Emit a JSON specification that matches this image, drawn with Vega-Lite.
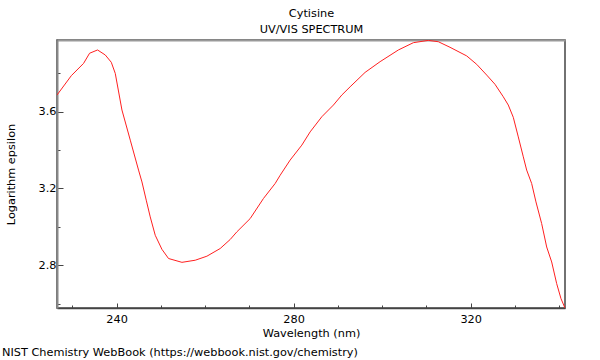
{
  "$schema": "https://vega.github.io/schema/vega-lite/v6.json",
  "width": 508,
  "height": 268,
  "autosize": {"type": "none"},
  "padding": {"left": 57, "top": 40, "right": 35, "bottom": 52},
  "background": "white",
  "title": {
    "text": "NIST Chemistry WebBook (https://webbook.nist.gov/chemistry)",
    "orient": "bottom",
    "anchor": "start",
    "frame": "bounds",
    "font": "DejaVu Sans",
    "fontSize": 11.3,
    "fontWeight": "normal",
    "color": "black",
    "offset": 8,
    "dx": -3
  },
  "config": {
    "font": "DejaVu Sans",
    "view": {"stroke": "#444", "strokeWidth": 1.5}
  },
  "data": {
    "values": [
      {"w": 226.55, "v": 3.687},
      {"w": 229.78, "v": 3.788},
      {"w": 232.55, "v": 3.852},
      {"w": 233.91, "v": 3.905},
      {"w": 235.71, "v": 3.922},
      {"w": 237.45, "v": 3.896},
      {"w": 238.81, "v": 3.858},
      {"w": 239.71, "v": 3.8},
      {"w": 241.22, "v": 3.609},
      {"w": 243.1, "v": 3.452},
      {"w": 244.97, "v": 3.296},
      {"w": 245.74, "v": 3.234},
      {"w": 246.71, "v": 3.139},
      {"w": 247.61, "v": 3.052},
      {"w": 248.74, "v": 2.956},
      {"w": 250.25, "v": 2.883},
      {"w": 251.74, "v": 2.835},
      {"w": 254.77, "v": 2.815},
      {"w": 257.77, "v": 2.826},
      {"w": 260.41, "v": 2.847},
      {"w": 263.41, "v": 2.887},
      {"w": 265.67, "v": 2.934},
      {"w": 267.18, "v": 2.974},
      {"w": 270.18, "v": 3.043},
      {"w": 273.19, "v": 3.148},
      {"w": 275.83, "v": 3.226},
      {"w": 276.96, "v": 3.269},
      {"w": 279.21, "v": 3.348},
      {"w": 281.85, "v": 3.426},
      {"w": 283.73, "v": 3.495},
      {"w": 286.37, "v": 3.574},
      {"w": 288.99, "v": 3.635},
      {"w": 290.88, "v": 3.687},
      {"w": 292.76, "v": 3.73},
      {"w": 296.14, "v": 3.805},
      {"w": 299.53, "v": 3.861},
      {"w": 303.66, "v": 3.922},
      {"w": 307.05, "v": 3.96},
      {"w": 310.43, "v": 3.972},
      {"w": 312.69, "v": 3.965},
      {"w": 315.33, "v": 3.936},
      {"w": 319.1, "v": 3.891},
      {"w": 321.36, "v": 3.847},
      {"w": 323.62, "v": 3.791},
      {"w": 325.49, "v": 3.743},
      {"w": 327.36, "v": 3.678},
      {"w": 328.49, "v": 3.635},
      {"w": 329.62, "v": 3.571},
      {"w": 330.75, "v": 3.469},
      {"w": 331.88, "v": 3.365},
      {"w": 332.64, "v": 3.296},
      {"w": 333.77, "v": 3.226},
      {"w": 334.74, "v": 3.13},
      {"w": 336.03, "v": 3.017},
      {"w": 337.16, "v": 2.895},
      {"w": 338.29, "v": 2.817},
      {"w": 339.42, "v": 2.704},
      {"w": 340.39, "v": 2.626},
      {"w": 341.29, "v": 2.577}
    ]
  },
  "resolve": {"axis": {"x": "independent"}},
  "layer": [
    {
      "mark": {"type": "line", "color": "#ff2020", "strokeWidth": 1, "clip": true},
      "encoding": {
        "x": {
          "field": "w",
          "type": "quantitative",
          "scale": {"domain": [226.55, 341.3], "nice": false, "zero": false},
          "axis": {
            "title": "Wavelength (nm)",
            "titleFont": "DejaVu Sans",
            "titleFontSize": 11.3,
            "titleFontWeight": "normal",
            "titleColor": "black",
            "titlePadding": 1,
            "values": [230, 240, 250, 260, 270, 280, 290, 300, 310, 320, 330, 340],
            "labelExpr": "datum.value % 40 === 0 ? format(datum.value, 'd') : ''",
            "labelFont": "DejaVu Sans",
            "labelFontSize": 11.3,
            "labelColor": "black",
            "labelPadding": 10,
            "labelOverlap": false,
            "labelFlush": false,
            "tickSize": {"condition": {"test": "datum.value % 40 === 0", "value": -5}, "value": -3},
            "tickColor": "#444",
            "domainColor": "#444",
            "domainWidth": 1.5,
            "grid": false
          }
        },
        "y": {
          "field": "v",
          "type": "quantitative",
          "scale": {"domain": [2.577, 3.974], "nice": false, "zero": false},
          "axis": {
            "title": "Logarithm epsilon",
            "titleFont": "DejaVu Sans",
            "titleFontSize": 11.3,
            "titleFontWeight": "normal",
            "titleColor": "black",
            "titlePadding": 22,
            "values": [2.6, 2.7, 2.8, 2.9, 3.0, 3.1, 3.2, 3.3, 3.4, 3.5, 3.6, 3.7, 3.8, 3.9],
            "labelExpr": "round(datum.value * 10) % 4 === 0 ? format(datum.value, '.1f') : ''",
            "labelFont": "DejaVu Sans",
            "labelFontSize": 11.3,
            "labelColor": "black",
            "labelPadding": 7,
            "labelOverlap": false,
            "labelFlush": false,
            "tickSize": {"condition": {"test": "round(datum.value * 10) % 4 === 0", "value": -6}, "value": -3},
            "tickColor": "#444",
            "domainColor": "#888",
            "domainWidth": 2,
            "grid": false
          }
        }
      }
    },
    {
      "mark": {"type": "line", "opacity": 0},
      "encoding": {
        "x": {
          "field": "w",
          "type": "quantitative",
          "axis": {
            "orient": "top",
            "title": ["Cytisine", "UV/VIS SPECTRUM"],
            "titleFont": "DejaVu Sans",
            "titleFontSize": 11.3,
            "titleFontWeight": "normal",
            "titleColor": "black",
            "titleLineHeight": 16,
            "titlePadding": 6,
            "labels": false,
            "ticks": false,
            "domainColor": "#999",
            "domainWidth": 2,
            "grid": false
          }
        },
        "y": {"field": "v", "type": "quantitative"}
      }
    }
  ]
}
